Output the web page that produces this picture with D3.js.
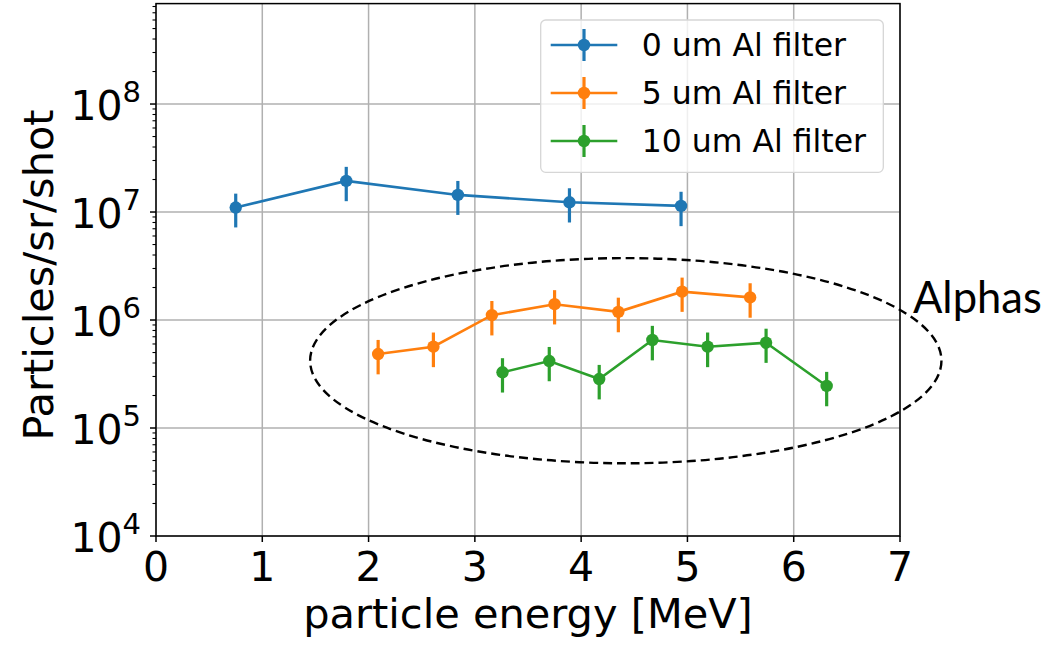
<!DOCTYPE html>
<html>
<head>
<meta charset="utf-8">
<script src="https://cdn.jsdelivr.net/npm/d3@7"></script>
<style>
  body { margin: 0; background: #fff; }
  text { font-family: "DejaVu Sans", sans-serif; fill: #000; }
</style>
</head>
<body>
<div id="chart"></div>
<script>
// data
const seriesNames = ["0 um Al filter", "5 um Al filter", "10 um Al filter"];
const colors = ["#1f77b4", "#ff7f0e", "#2ca02c"];

const energy0 = [0.75, 1.79, 2.84, 3.89, 4.94];
const counts0 = [1.10e7, 1.94e7, 1.44e7, 1.23e7, 1.14e7];
const err0 = [3.8e6, 6.8e6, 5.0e6, 4.3e6, 4.0e6];

const energy5 = [2.09, 2.61, 3.16, 3.75, 4.35, 4.95, 5.59];
const counts5 = [4.84e5, 5.66e5, 1.11e6, 1.40e6, 1.19e6, 1.83e6, 1.62e6];
const err5 = [1.7e5, 2.0e5, 3.9e5, 4.9e5, 4.2e5, 6.4e5, 5.7e5];

const energy10 = [3.26, 3.70, 4.17, 4.67, 5.19, 5.74, 6.31];
const counts10 = [3.28e5, 4.17e5, 2.84e5, 6.53e5, 5.66e5, 6.16e5, 2.45e5];
const err10 = [1.15e5, 1.46e5, 1.0e5, 2.3e5, 2.0e5, 2.15e5, 0.86e5];

const xTicks = [0, 1, 2, 3, 4, 5, 6, 7];
const yTickExp = [4, 5, 6, 7, 8];

// annotation ellipse (data units): centre energy, centre count, half width MeV, half height decades
const alphaEllipse = { cx: 4.42, cy: 4.2e5, hw: 2.97, hdec: 0.95 };
const alphaLabel = "Alphas";

const WIDTH = 1051;
const HEIGHT = 649;

const svg = d3.select("#chart").append("svg")
  .attr("width", WIDTH).attr("height", HEIGHT);

const x = d3.scaleLinear().domain([0, 7]).range([156, 900]);
const y = d3.scaleLog().domain([1e4, Math.pow(10, 8.93)]).range([536, 3.6]);

const plotLeft = x.range()[0], plotRight = x.range()[1];
const plotBottom = y.range()[0], plotTop = y.range()[1];

// grid
const grid = svg.append("g");
xTicks.forEach(t => {
  grid.append("line")
    .attr("x1", x(t)).attr("x2", x(t)).attr("y1", plotTop).attr("y2", plotBottom)
    .attr("stroke", "#b0b0b0").attr("stroke-width", 1.5);
});
yTickExp.forEach(e => {
  grid.append("line")
    .attr("x1", plotLeft).attr("x2", plotRight).attr("y1", y(Math.pow(10, e))).attr("y2", y(Math.pow(10, e)))
    .attr("stroke", "#b0b0b0").attr("stroke-width", 1.5);
});

// series
const series = [
  { xs: energy0, ys: counts0, es: err0 },
  { xs: energy5, ys: counts5, es: err5 },
  { xs: energy10, ys: counts10, es: err10 }
];

const line = d3.line().x(d => x(d[0])).y(d => y(d[1]));

series.forEach((s, i) => {
  const pts = s.xs.map((v, j) => [v, s.ys[j], s.es[j]]);
  const g = svg.append("g");
  g.selectAll("line.err")
    .data(pts).enter().append("line")
    .attr("x1", d => x(d[0])).attr("x2", d => x(d[0]))
    .attr("y1", d => y(d[1] + d[2])).attr("y2", d => y(d[1] - d[2]))
    .attr("stroke", colors[i]).attr("stroke-width", 3.2);
  g.append("path")
    .attr("d", line(pts))
    .attr("fill", "none").attr("stroke", colors[i]).attr("stroke-width", 2.6);
  g.selectAll("circle")
    .data(pts).enter().append("circle")
    .attr("cx", d => x(d[0])).attr("cy", d => y(d[1]))
    .attr("r", 6.2).attr("fill", colors[i]);
});

// spines
svg.append("rect")
  .attr("x", plotLeft).attr("y", plotTop).attr("width", plotRight - plotLeft).attr("height", plotBottom - plotTop)
  .attr("fill", "none").attr("stroke", "#000").attr("stroke-width", 1.5);

// x ticks
xTicks.forEach(t => {
  svg.append("line")
    .attr("x1", x(t)).attr("x2", x(t)).attr("y1", plotBottom).attr("y2", plotBottom + 6)
    .attr("stroke", "#000").attr("stroke-width", 1.5);
  svg.append("text")
    .attr("x", x(t)).attr("y", 581)
    .attr("text-anchor", "middle").attr("font-size", 41)
    .text(t);
});

// y ticks (major + log minor)
yTickExp.forEach(e => {
  const v = Math.pow(10, e);
  svg.append("line")
    .attr("x1", plotLeft - 6).attr("x2", plotLeft).attr("y1", y(v)).attr("y2", y(v))
    .attr("stroke", "#000").attr("stroke-width", 1.5);
  const t = svg.append("text")
    .attr("x", 141).attr("y", y(v) + 16)
    .attr("text-anchor", "end").attr("font-size", 41);
  t.append("tspan").text("10");
  t.append("tspan").attr("font-size", 29).attr("dy", -18.3).text(e);
});
for (let e = 4; e <= 8; e++) {
  for (let m = 2; m <= 9; m++) {
    const v = m * Math.pow(10, e);
    if (v > y.domain()[1]) continue;
    svg.append("line")
      .attr("x1", plotLeft - 3.5).attr("x2", plotLeft).attr("y1", y(v)).attr("y2", y(v))
      .attr("stroke", "#000").attr("stroke-width", 1.1);
  }
}

// axis labels
svg.append("text")
  .attr("x", (plotLeft + plotRight) / 2).attr("y", 628)
  .attr("text-anchor", "middle").attr("font-size", 41.5)
  .text("particle energy [MeV]");
svg.append("text")
  .attr("transform", "translate(53,275) rotate(-90)")
  .attr("text-anchor", "middle").attr("font-size", 41.5)
  .text("Particles/sr/shot");

// legend
const legend = svg.append("g");
legend.append("rect")
  .attr("x", 540.7).attr("y", 20).attr("width", 342.6).attr("height", 152.3)
  .attr("rx", 5).attr("fill", "#fff").attr("fill-opacity", 0.8)
  .attr("stroke", "#d6d6d6").attr("stroke-width", 1.3);
seriesNames.forEach((name, i) => {
  const ry = 45 + i * 48;
  legend.append("line")
    .attr("x1", 550.7).attr("x2", 617.3).attr("y1", ry).attr("y2", ry)
    .attr("stroke", colors[i]).attr("stroke-width", 2.6);
  legend.append("line")
    .attr("x1", 584).attr("x2", 584).attr("y1", ry - 16).attr("y2", ry + 16)
    .attr("stroke", colors[i]).attr("stroke-width", 3.2);
  legend.append("circle")
    .attr("cx", 584).attr("cy", ry).attr("r", 6.2).attr("fill", colors[i]);
  legend.append("text")
    .attr("x", 641.7).attr("y", ry + 10.5)
    .attr("font-size", 31.5)
    .text(name);
});

// alphas annotation
const ecx = x(alphaEllipse.cx);
const ecy = y(alphaEllipse.cy);
svg.append("ellipse")
  .attr("cx", ecx).attr("cy", ecy)
  .attr("rx", x(alphaEllipse.cx + alphaEllipse.hw) - ecx)
  .attr("ry", y(alphaEllipse.cy / Math.pow(10, alphaEllipse.hdec)) - ecy)
  .attr("fill", "none").attr("stroke", "#000").attr("stroke-width", 2.4)
  .attr("stroke-dasharray", "9,5");
svg.append("text")
  .attr("x", plotRight + 13).attr("y", 313)
  .attr("font-size", 43.5)
  .style("font-family", "Lato, 'Open Sans', sans-serif")
  .text(alphaLabel);
</script>
</body>
</html>
